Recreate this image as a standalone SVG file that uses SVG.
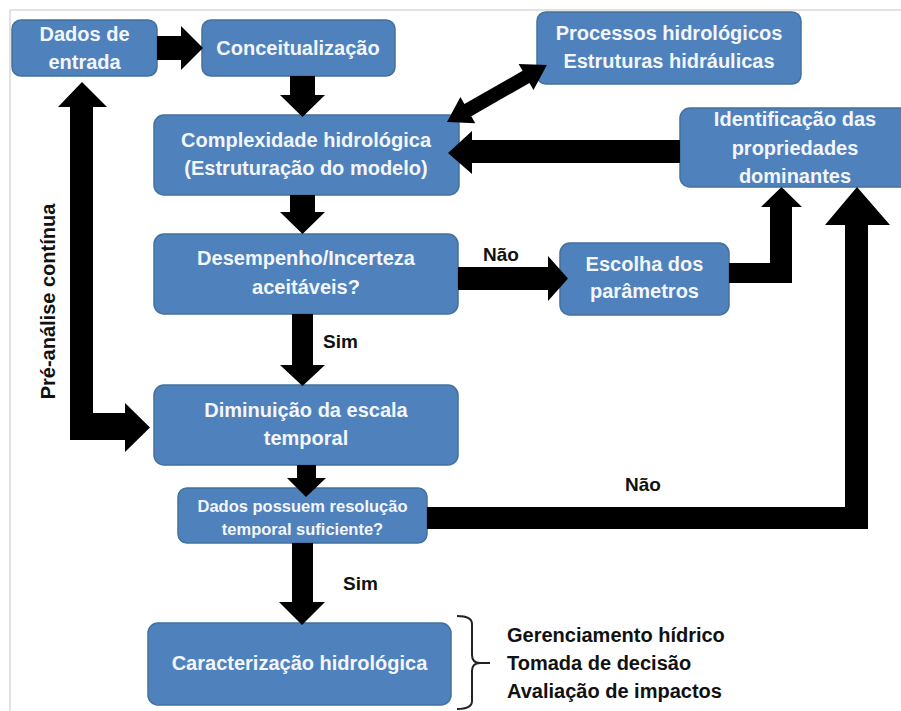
<svg xmlns="http://www.w3.org/2000/svg" width="901" height="711" viewBox="0 0 901 711">
<style>
.box{fill:#4f81bd;stroke:#41719c;stroke-width:1.5}
.t{font-family:"Liberation Sans",Arial,sans-serif;font-weight:bold;font-size:20px;fill:#f3f6fb;text-anchor:middle}
.ts{font-size:16.5px}
.lbl{font-family:"Liberation Sans",Arial,sans-serif;font-weight:bold;font-size:19px;fill:#111}
.side{font-family:"Liberation Sans",Arial,sans-serif;font-weight:bold;font-size:20px;fill:#111}
.arr{fill:#000}
</style>
<rect width="901" height="711" fill="#fff"/>
<path d="M10,711 V10 H901" fill="none" stroke="#e2e2e2" stroke-width="2"/>
<g id="dados-entrada">
<rect class="box" x="12" y="20" width="145" height="56" rx="9"/>
<text class="t" x="84.5" y="41">Dados de</text>
<text class="t" x="84.5" y="69">entrada</text>
</g>
<g id="conceitualizacao">
<rect class="box" x="202" y="20" width="193" height="56" rx="9"/>
<text class="t" x="298" y="55">Conceitualização</text>
</g>
<g id="processos">
<rect class="box" x="537" y="12" width="264" height="72" rx="9"/>
<text class="t" x="669" y="40">Processos hidrológicos</text>
<text class="t" x="669" y="68">Estruturas hidráulicas</text>
</g>
<g id="complexidade">
<rect class="box" x="154" y="115" width="305" height="80" rx="10"/>
<text class="t" x="306" y="147">Complexidade hidrológica</text>
<text class="t" x="306" y="175">(Estruturação do modelo)</text>
</g>
<g id="identificacao">
<rect class="box" x="680" y="108" width="232" height="79" rx="10"/>
<text class="t" x="795" y="126">Identificação das</text>
<text class="t" x="795" y="155">propriedades</text>
<text class="t" x="795" y="183">dominantes</text>
</g>
<g id="desempenho">
<rect class="box" x="154" y="234" width="304" height="80" rx="10"/>
<text class="t" x="306" y="265">Desempenho/Incerteza</text>
<text class="t" x="306" y="294">aceitáveis?</text>
</g>
<g id="escolha">
<rect class="box" x="560" y="243" width="169" height="72" rx="10"/>
<text class="t" x="644.5" y="271">Escolha dos</text>
<text class="t" x="644.5" y="298">parâmetros</text>
</g>
<g id="diminuicao">
<rect class="box" x="154" y="385" width="304" height="80" rx="10"/>
<text class="t" x="306" y="417">Diminuição da escala</text>
<text class="t" x="306" y="445">temporal</text>
</g>
<g id="resolucao">
<rect class="box" x="178" y="488" width="249" height="55" rx="9"/>
<text class="t ts" x="302.5" y="512">Dados possuem resolução</text>
<text class="t ts" x="302.5" y="535">temporal suficiente?</text>
</g>
<g id="caracterizacao">
<rect class="box" x="148" y="623" width="303" height="82" rx="10"/>
<text class="t" x="299.5" y="670">Caracterização hidrológica</text>
</g>
<g id="aplicacoes">
<path d="M457,616 Q472,616 472,624 V655 Q472,663 480,663 H490 M480,663 Q472,663 472,671 V701 Q472,709 457,709" fill="none" stroke="#222" stroke-width="2"/>
<text class="side" x="507" y="642">Gerenciamento hídrico</text>
<text class="side" x="507" y="670">Tomada de decisão</text>
<text class="side" x="507" y="698">Avaliação de impactos</text>
</g>
<g id="connectors">
<polygon class="arr" points="157,36 181,36 181,26 203,48 181,70 181,60 157,60"/>
<polygon class="arr" points="290,76 315,76 315,95 325,95 302.5,117 280,95 290,95"/>
<polygon class="arr" points="290,195 315,195 315,212 325,212 302.5,234 280,212 290,212"/>
<polygon class="arr" points="292,314 313,314 313,365 325,365 302.5,386 280,365 292,365"/>
<polygon class="arr" points="297,465 316,465 316,478 326,478 306,497 287,478 297,478"/>
<polygon class="arr" points="292,543 313,543 313,602 325,602 302,625 279,602 292,602"/>
<polygon class="arr" points="458,267 548,267 548,256 568,278.5 548,301 548,290 458,290"/>
<polygon class="arr" points="729,263 770,263 770,207 761,207 781.5,187 802,207 792,207 792,283 729,283"/>
<polygon class="arr" points="427,507 845,507 845,225 825,225 857,187 890,225 868,225 868,529 427,529"/>
<polygon class="arr" points="680,140 472,140 472,131 448,153 472,174 472,163 680,163"/>
<polygon class="arr" transform="translate(447,122) rotate(-29.7)" points="0,0 24,-15 24,-7 91,-7 91,-15 115,0 91,15 91,7 24,7 24,15"/>
<polygon class="arr" points="82,82 107,107 93,107 93,413 125,413 125,403 150,427.5 125,452 125,440 70,440 70,107 58,107"/>
<text class="side" transform="translate(55,301.5) rotate(-90)" text-anchor="middle">Pré-análise contínua</text>
<text class="lbl" x="483" y="261">Não</text>
<text class="lbl" x="323" y="348">Sim</text>
<text class="lbl" x="625" y="491">Não</text>
<text class="lbl" x="343" y="590">Sim</text>
</g>
</svg>
